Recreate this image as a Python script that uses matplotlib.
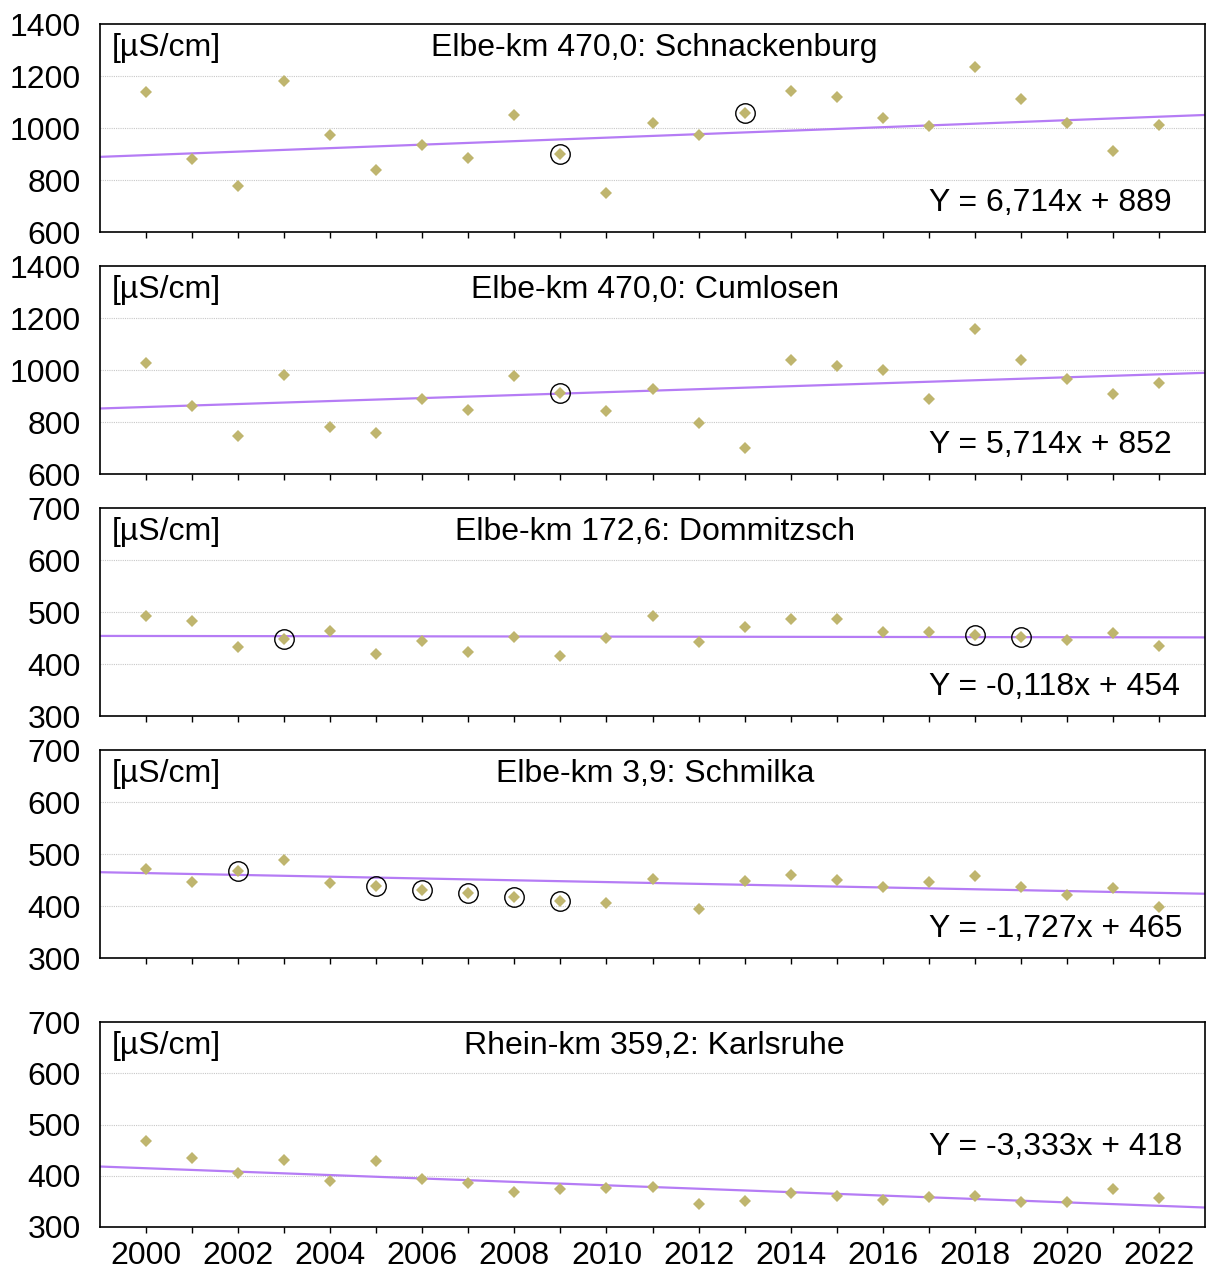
import matplotlib
matplotlib.use("Agg")
import matplotlib.pyplot as plt
import numpy as np

plt.rcParams['font.family'] = ['Liberation Sans', 'DejaVu Sans']

years = list(range(2000, 2023))

titles = ["Elbe-km 470,0: Schnackenburg", "Elbe-km 470,0: Cumlosen",
          "Elbe-km 172,6: Dommitzsch", "Elbe-km 3,9: Schmilka",
          "Rhein-km 359,2: Karlsruhe"]

schnackenburg = [1140, 881, 777, 1180, 972, 838, 935, 886, 1049, 900, 750,
                 1018, 974, 1058, 1141, 1119, 1040, 1009, 1233, 1110, 1018, 912, 1012]
cumlosen = [1026, 862, 747, 982, 779, 758, 888, 846, 977, 910, 843,
            927, 798, 700, 1039, 1017, 999, 890, 1157, 1039, 965, 907, 951]
dommitzsch = [493, 482, 432, 448, 464, 420, 445, 423, 452, 415, 450,
              493, 443, 471, 486, 486, 461, 462, 456, 452, 447, 459, 435]
schmilka = [472, 446, 468, 488, 444, 438, 430, 425, 417, 410, 405,
            451, 395, 448, 459, 450, 437, 446, 457, 437, 422, 435, 399]
karlsruhe = [468, 434, 405, 431, 390, 429, 393, 386, 369, 375, 376,
             378, 344, 350, 366, 361, 353, 358, 360, 349, 348, 374, 356]

series = [schnackenburg, cumlosen, dommitzsch, schmilka, karlsruhe]

# circled (highlighted) years per panel
circled = [[2009, 2013], [2009], [2003, 2018, 2019],
           [2002, 2005, 2006, 2007, 2008, 2009], []]

slopes = [6.714, 5.714, -0.118, -1.727, -3.333]
intercepts = [889, 852, 454, 465, 418]
equations = ["Y = 6,714x + 889", "Y = 5,714x + 852", "Y = -0,118x + 454",
             "Y = -1,727x + 465", "Y = -3,333x + 418"]

ylims = [(600, 1400), (600, 1400), (300, 700), (300, 700), (300, 700)]
yticks = [[600, 800, 1000, 1200, 1400], [600, 800, 1000, 1200, 1400],
          [300, 400, 500, 600, 700], [300, 400, 500, 600, 700],
          [300, 400, 500, 600, 700]]
eq_ypos = [0.14, 0.14, 0.14, 0.14, 0.39]

W, H = 1206, 1272
fig = plt.figure(figsize=(W / 100, H / 100), dpi=100)

# panel pixel extents (top, bottom)
panels_px = [(24, 232), (266, 474), (508, 716), (750, 958), (1022, 1227)]
left_px, right_px = 100, 1205

marker_color = '#bfb56e'
line_color = '#b57cf5'
FS = 23

x0 = 1999
for i, (top, bot) in enumerate(panels_px):
    ax = fig.add_axes([left_px / W, 1 - bot / H, (right_px - left_px) / W, (bot - top) / H])
    ax.set_xlim(1999, 2023)
    ax.set_ylim(*ylims[i])
    ax.set_yticks(yticks[i])
    ax.set_xticks(years)
    if i == 4:
        ax.set_xticklabels([str(y) if y % 2 == 0 else "" for y in years])
    else:
        ax.set_xticklabels([])
    ax.tick_params(axis='x', direction='out', length=4, width=1, labelsize=FS, pad=6)
    ax.tick_params(axis='y', direction='out', length=0, labelsize=FS, pad=14)
    for t in yticks[i][1:-1]:
        ax.axhline(t, color='#c8c8c8', lw=0.8, ls=(0, (1, 1)), zorder=0)
    for sp in ax.spines.values():
        sp.set_linewidth(1.2)
        sp.set_color('black')

    # trend line from equation (x = year - 1999)
    xs = np.array([1999, 2023])
    ax.plot(xs, slopes[i] * (xs - x0) + intercepts[i], color=line_color, lw=1.6, zorder=2)

    ax.plot(years, series[i], ls='none', marker='D', ms=6.5, mew=0,
            color=marker_color, zorder=3)

    if circled[i]:
        cy = [series[i][years.index(y)] for y in circled[i]]
        ax.plot(circled[i], cy, ls='none', marker='o', ms=14, mfc='none',
                mec='black', mew=1.0, zorder=4)

    ax.text(0.011, 0.885, "[µS/cm]", transform=ax.transAxes, fontsize=FS,
            ha='left', va='center')
    ax.text(0.502, 0.885, titles[i], transform=ax.transAxes, fontsize=FS,
            ha='center', va='center')
    ax.text(2017.0, eq_ypos[i], equations[i], transform=ax.get_xaxis_transform(),
            fontsize=FS, ha='left', va='center')

fig.savefig("out.png", dpi=100)
